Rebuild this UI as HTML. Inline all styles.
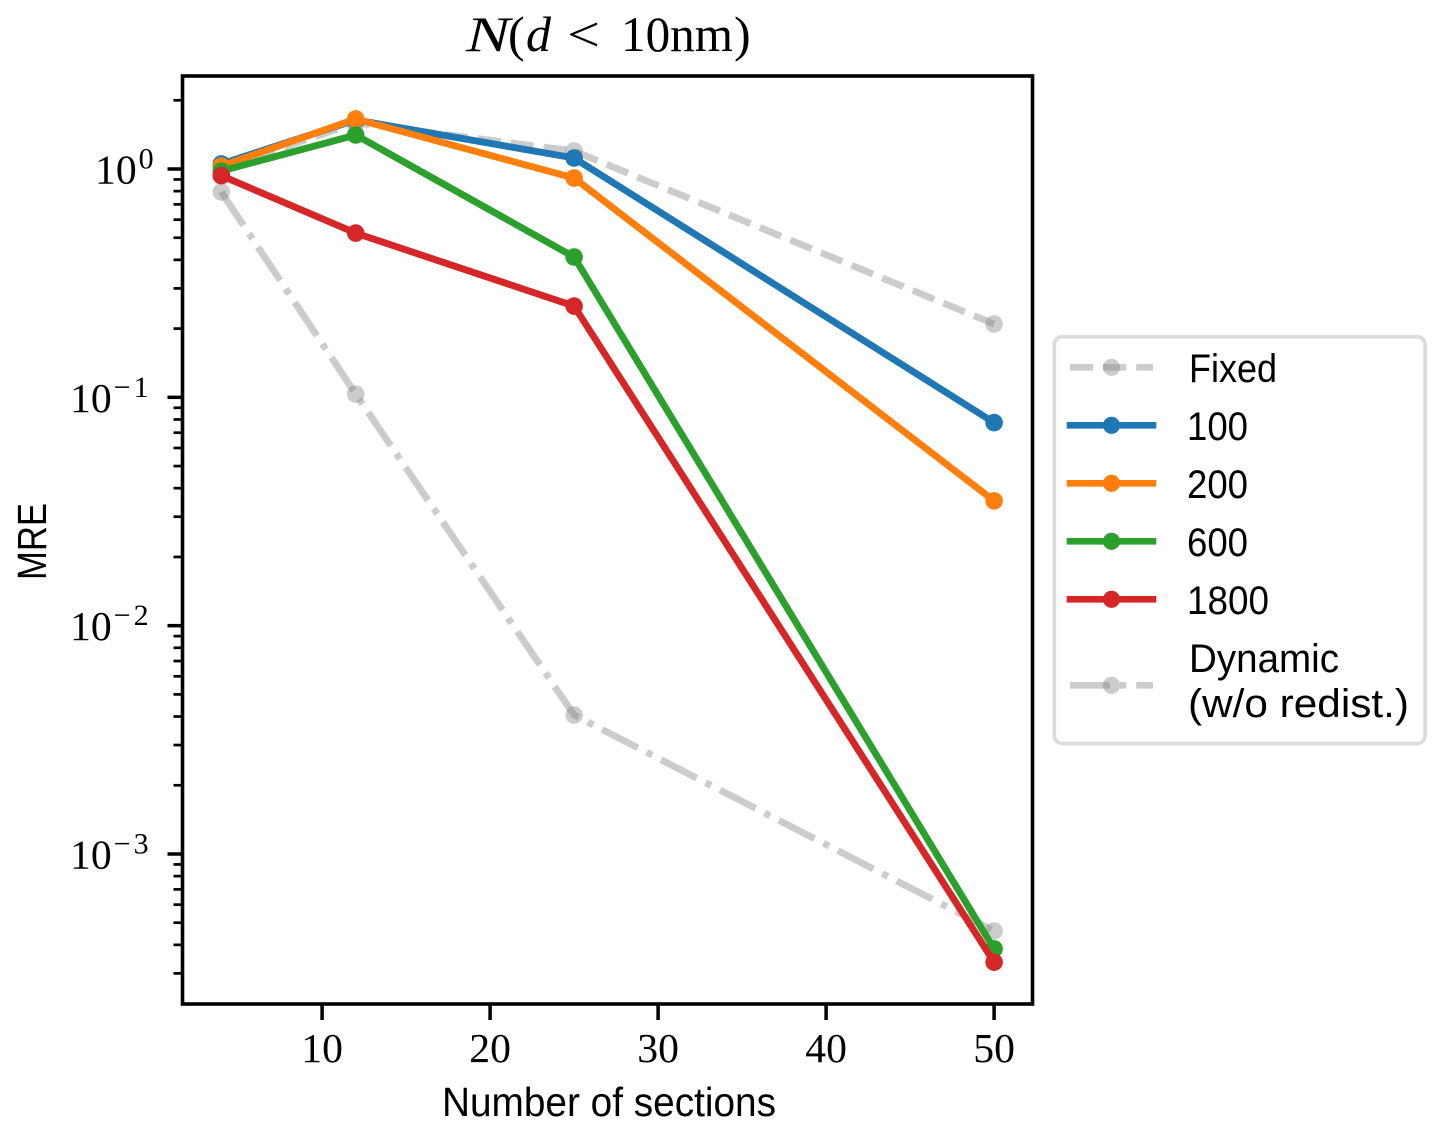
<!DOCTYPE html>
<html lang="en">
<head>
<meta charset="utf-8">
<title>N(d &lt; 10nm) MRE chart</title>
<style>
html,body{margin:0;padding:0;background:#fff;}
svg{display:block;}
.serif{font-family:"Liberation Serif",serif;fill:#000;}
.sans{font-family:"Liberation Sans",sans-serif;fill:#000;}
</style>
</head>
<body>
<svg id="chart" xmlns="http://www.w3.org/2000/svg" width="1443" height="1130" viewBox="0 0 1443 1130">
  <rect x="0" y="0" width="1443" height="1130" fill="#fff"/>
  <g id="marks"></g>
  <g id="ticks"></g>
  <rect x="182.5" y="76" width="850" height="928" fill="none" stroke="#000" stroke-width="3.6"/>

  <text class="serif" y="51" font-size="50"><tspan x="466" font-style="italic" textLength="44" lengthAdjust="spacingAndGlyphs">N</tspan><tspan x="508">(</tspan><tspan x="526" font-style="italic">d</tspan><tspan x="567" textLength="33" lengthAdjust="spacingAndGlyphs">&lt;</tspan><tspan x="621" textLength="112" lengthAdjust="spacingAndGlyphs">10nm</tspan><tspan x="734">)</tspan></text>
  <text class="sans" x="442" y="1116" font-size="41" textLength="334" lengthAdjust="spacingAndGlyphs">Number of sections</text>
  <text class="sans" x="0" y="0" font-size="41" textLength="77" lengthAdjust="spacingAndGlyphs" transform="translate(46 580) rotate(-90)">MRE</text>

  <g>
    <rect x="1054.3" y="336.7" width="370.8" height="406.8" rx="8" ry="8" fill="#fff" fill-opacity="0.8" stroke="#dcdcdc" stroke-width="3.8"/>

    <g>
      <line x1="1070" y1="367.3" x2="1153" y2="367.3" stroke="#7f7f7f" stroke-opacity="0.4" stroke-width="6.6" stroke-dasharray="23.1 10"/>
      <circle cx="1111.5" cy="367.3" r="8.6" fill="#7f7f7f" fill-opacity="0.4"/>
      <text class="sans" x="1189" y="382" font-size="40" textLength="88" lengthAdjust="spacingAndGlyphs">Fixed</text>
    </g>
    <g>
      <line x1="1070" y1="425.3" x2="1153" y2="425.3" stroke="#1f77b4" stroke-width="6.6" stroke-linecap="square"/>
      <circle cx="1111.5" cy="425.3" r="8.6" fill="#1f77b4"/>
      <text class="sans" x="1187" y="440" font-size="40" textLength="61" lengthAdjust="spacingAndGlyphs">100</text>
    </g>
    <g>
      <line x1="1070" y1="483.3" x2="1153" y2="483.3" stroke="#ff7f0e" stroke-width="6.6" stroke-linecap="square"/>
      <circle cx="1111.5" cy="483.3" r="8.6" fill="#ff7f0e"/>
      <text class="sans" x="1187" y="498" font-size="40" textLength="61" lengthAdjust="spacingAndGlyphs">200</text>
    </g>
    <g>
      <line x1="1070" y1="541.3" x2="1153" y2="541.3" stroke="#2ca02c" stroke-width="6.6" stroke-linecap="square"/>
      <circle cx="1111.5" cy="541.3" r="8.6" fill="#2ca02c"/>
      <text class="sans" x="1187" y="556" font-size="40" textLength="61" lengthAdjust="spacingAndGlyphs">600</text>
    </g>
    <g>
      <line x1="1070" y1="599.3" x2="1153" y2="599.3" stroke="#d62728" stroke-width="6.6" stroke-linecap="square"/>
      <circle cx="1111.5" cy="599.3" r="8.6" fill="#d62728"/>
      <text class="sans" x="1187" y="614" font-size="40" textLength="82" lengthAdjust="spacingAndGlyphs">1800</text>
    </g>
    <g>
      <line x1="1070" y1="685.3" x2="1153" y2="685.3" stroke="#7f7f7f" stroke-opacity="0.4" stroke-width="6.6" stroke-dasharray="40 10 6.25 10"/>
      <circle cx="1111.5" cy="685.3" r="8.6" fill="#7f7f7f" fill-opacity="0.4"/>
      <text class="sans" x="1189" y="672" font-size="40" textLength="150" lengthAdjust="spacingAndGlyphs">Dynamic</text>
      <text class="sans" x="1188" y="717" font-size="40" textLength="221" lengthAdjust="spacingAndGlyphs">(w/o redist.)</text>
    </g>
  </g>
</svg>
<script>
const sections = [4, 12, 25, 50];
const fixedValues = [1.01, 1.59, 1.199, 0.2095];
const values100 = [1.052, 1.64, 1.117, 0.0775];
const values200 = [1.03, 1.656, 0.913, 0.0352];
const values600 = [0.98, 1.409, 0.4117, 0.000384];
const values1800 = [0.935, 0.524, 0.251, 0.000336];
const dynamicValues = [0.793, 0.1034, 0.00406, 0.00046];
const xTickValues = [10, 20, 30, 40, 50];
const yTickExponents = [0, -1, -2, -3];
const yMinorDecades = [0, -1, -2, -3, -4];
const yMinorMultiples = [2, 3, 4, 5, 6, 7, 8, 9];

const SVG_NS = 'http://www.w3.org/2000/svg';
const PLOT = { left: 182.5, right: 1032.5, top: 76, bottom: 1004 };
function xScale(v) { return 221.3 + (v - 4) * 16.8; }
function yScale(v) { return 169 - 228.33 * Math.log10(v); }
function mk(tag, parent, attrs) {
  const node = document.createElementNS(SVG_NS, tag);
  for (const key in attrs) node.setAttribute(key, attrs[key]);
  parent.appendChild(node);
  return node;
}

const marks = document.getElementById('marks');
const ticks = document.getElementById('ticks');

function drawSeries(name, values, color, opacity, dash) {
  const group = mk('g', marks, {});
  
  
  const points = sections.map(function (s, i) { return xScale(s).toFixed(2) + ',' + yScale(values[i]).toFixed(2); }).join(' ');
  const attrs = { points: points, fill: 'none', stroke: color, 'stroke-width': 6.9, 'stroke-opacity': opacity, 'stroke-linejoin': 'round' };
  if (dash) attrs['stroke-dasharray'] = dash;
  const line = mk('polyline', group, attrs);
  
  
  sections.forEach(function (s, i) {
    const dot = mk('circle', group, { cx: xScale(s), cy: yScale(values[i]), r: 8.8, fill: color, 'fill-opacity': opacity });
    
    
  });
}

drawSeries('dynamic', dynamicValues, '#7f7f7f', 0.4, '40 10 6.25 10');
drawSeries('fixed', fixedValues, '#7f7f7f', 0.4, '23.1 10');
drawSeries('100', values100, '#1f77b4', 1, null);
drawSeries('200', values200, '#ff7f0e', 1, null);
drawSeries('600', values600, '#2ca02c', 1, null);
drawSeries('1800', values1800, '#d62728', 1, null);

xTickValues.forEach(function (v) {
  const x = xScale(v);
  const tick = mk('line', ticks, { x1: x, x2: x, y1: PLOT.bottom, y2: PLOT.bottom + 16, stroke: '#000', 'stroke-width': 3.5 });
  
  
  const label = mk('text', ticks, { x: x, y: 1062, 'text-anchor': 'middle', 'font-size': 41.67, class: 'serif' });
  label.textContent = String(v);
  
  
});

yTickExponents.forEach(function (e) {
  const y = yScale(Math.pow(10, e));
  const tick = mk('line', ticks, { x1: PLOT.left - 15, x2: PLOT.left, y1: y, y2: y, stroke: '#000', 'stroke-width': 3.5 });
  
  
  const labelStart = e < 0 ? 70 : 95;
  const label = mk('text', ticks, { x: labelStart, y: y + 14.5, 'font-size': 41.67, class: 'serif' });
  
  
  label.appendChild(document.createTextNode('10'));
  const sup = mk('tspan', label, { dx: 2, dy: -15, 'font-size': 30, 'letter-spacing': e < 0 ? 3 : 0 });
  sup.textContent = e < 0 ? '\u2212' + Math.abs(e) : String(e);
});

yMinorDecades.forEach(function (d) {
  yMinorMultiples.forEach(function (m) {
    const y = yScale(m * Math.pow(10, d));
    if (y < PLOT.top || y > PLOT.bottom) return;
    const minor = mk('line', ticks, { x1: PLOT.left - 9, x2: PLOT.left, y1: y, y2: y, stroke: '#000', 'stroke-width': 2.7 });
    
    
  });
});
</script>
</body>
</html>
